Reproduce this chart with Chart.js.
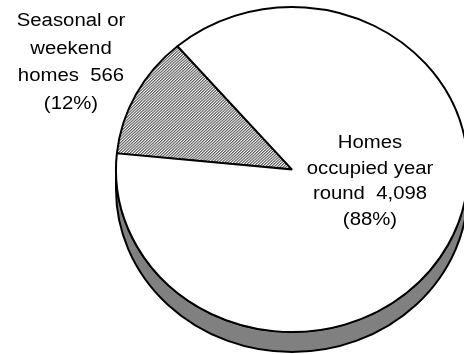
<!DOCTYPE html>
<html>
<head>
<meta charset="utf-8">
<script src="https://cdn.jsdelivr.net/npm/chart.js@4"></script>
<style>
  html, body { margin: 0; padding: 0; background: #fff; overflow: hidden; }
  #pie { display: block; }
</style>
</head>
<body>
<canvas id="pie" width="464" height="354"></canvas>
<script>
// Housing units by occupancy (thousands)
const categories = ['Seasonal or weekend homes', 'Homes occupied year round'];
const labelLines = [['Seasonal or', 'weekend', 'homes'], ['Homes', 'occupied year', 'round']];
const unitValues = [566, 4098];

// --- Layout ---
const PIE = { cx: 292, cy: 169.5, rx: 176, ry: 162.5, depth: 20 };
const LABEL_POS = [
    { x: 71, y: 26, step: 27.5 },
    { x: 370, y: 148, step: 25.5 }
];
const FONT = '18px "Liberation Sans", Arial, sans-serif';
const TEXT_STRETCH = 1.13;

// --- Fills ---
function makeHatch() {
    const c = document.createElement('canvas');
    c.width = 3; c.height = 3;
    const g = c.getContext('2d');
    g.fillStyle = '#fff';
    g.fillRect(0, 0, 3, 3);
    for (let y = 0; y < 3; y++) {
        for (let x = 0; x < 3; x++) {
            // fine "/" diagonals
            const k = (x + y) % 3;
            if (k === 0) { g.fillStyle = '#5a5a5a'; g.fillRect(x, y, 1, 1); }
            else if (k === 1) { g.fillStyle = '#9a9a9a'; g.fillRect(x, y, 1, 1); }
        }
    }
    return g.createPattern(c, 'repeat');
}

const total = unitValues.reduce((a, b) => a + b, 0);
const pct = v => Math.round(v / total * 100);

// Squash the round pie into an ellipse and give it a side wall
const tiltPlugin = {
    id: 'tilt',
    beforeDatasetsDraw(chart) {
        const ctx = chart.ctx;
        const arc = chart.getDatasetMeta(0).data[0];
        const r = arc.outerRadius;

        // side wall, only the front half shows
        ctx.save();
        ctx.beginPath();
        ctx.moveTo(PIE.cx - PIE.rx, PIE.cy);
        ctx.lineTo(PIE.cx - PIE.rx, PIE.cy + PIE.depth);
        ctx.ellipse(PIE.cx, PIE.cy + PIE.depth, PIE.rx, PIE.ry, 0, Math.PI, 0, true);
        ctx.lineTo(PIE.cx + PIE.rx, PIE.cy);
        ctx.ellipse(PIE.cx, PIE.cy, PIE.rx, PIE.ry, 0, 0, Math.PI, false);
        ctx.closePath();
        ctx.fillStyle = '#808080';
        ctx.fill();
        ctx.lineWidth = 2;
        ctx.strokeStyle = '#000';
        ctx.stroke();
        ctx.restore();

        ctx.save();
        ctx.translate(PIE.cx, PIE.cy);
        ctx.scale(PIE.rx / r, PIE.ry / r);
        ctx.translate(-arc.x, -arc.y);
    },
    afterDatasetsDraw(chart) {
        chart.ctx.restore();
    },
    afterDraw(chart) {
        const ctx = chart.ctx;
        ctx.save();
        ctx.font = FONT;
        ctx.fillStyle = '#000';
        ctx.textAlign = 'center';
        ctx.textBaseline = 'alphabetic';
        unitValues.forEach((v, i) => {
            const lines = labelLines[i].slice();
            lines[lines.length - 1] += '  ' + v.toLocaleString('en-US');
            lines.push('(' + pct(v) + '%)');
            const p = LABEL_POS[i];
            lines.forEach((t, k) => {
                ctx.save();
                ctx.translate(p.x, p.y + k * p.step);
                ctx.scale(TEXT_STRETCH, 1);
                ctx.fillText(t, 0, 0);
                ctx.restore();
            });
        });
        ctx.restore();
    }
};

new Chart(document.getElementById('pie'), {
    type: 'pie',
    data: {
        labels: categories,
        datasets: [{
            data: unitValues,
            backgroundColor: [makeHatch(), '#ffffff'],
            borderColor: '#000',
            borderWidth: 2,
            hoverOffset: 0
        }]
    },
    options: {
        responsive: false,
        animation: false,
        events: [],
        rotation: 275.7,
        layout: { padding: 0 },
        plugins: {
            legend: { display: false },
            tooltip: { enabled: false }
        }
    },
    plugins: [tiltPlugin]
});
</script>
</body>
</html>
